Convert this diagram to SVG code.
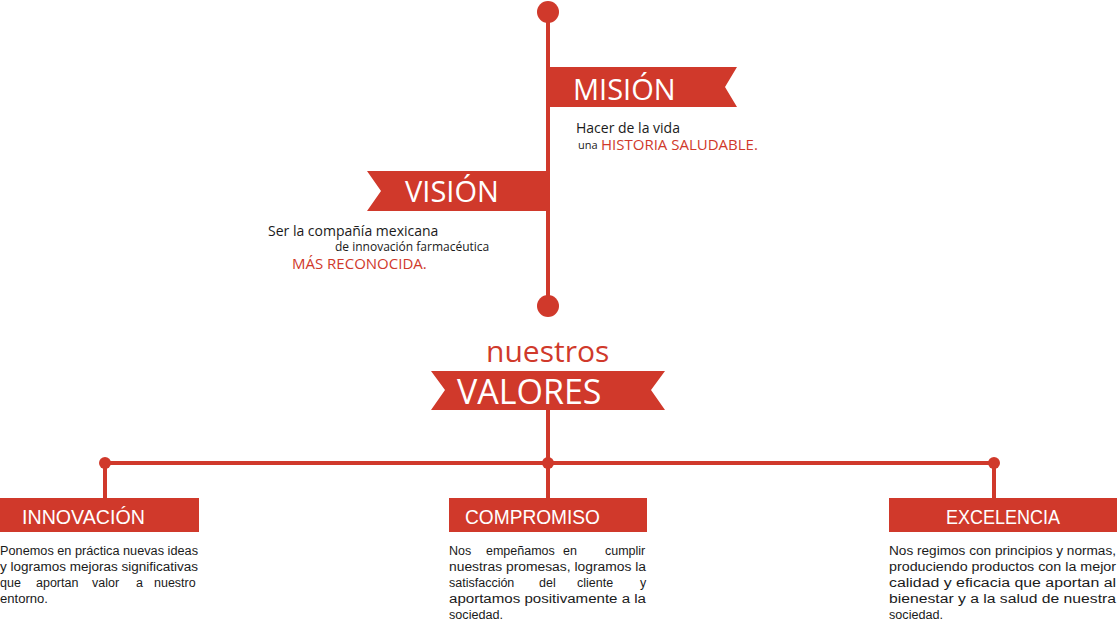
<svg xmlns="http://www.w3.org/2000/svg" width="1120" height="626" viewBox="0 0 1120 626">
<style>
.r{fill:#d0392b}
.ln{stroke:#d0392b;stroke-width:4;fill:none}
.w{fill:#fff;font-family:"Open Sans","Liberation Sans",sans-serif}
.t{fill:#1a1a1a;font-family:"Open Sans","Liberation Sans",sans-serif}
.rt{fill:#d0392b;font-family:"Open Sans","Liberation Sans",sans-serif}
.b{fill:#1a1a1a;font-family:"Liberation Sans",sans-serif;font-size:12.5px}
.h{fill:#fff;font-family:"Liberation Sans",sans-serif;font-size:20px}
</style>
<rect width="1120" height="626" fill="#fff"/>
<g id="connectors">
<line class="ln" x1="548" y1="12" x2="548" y2="306"/>
<line class="ln" x1="548" y1="410" x2="548" y2="498"/>
<line class="ln" x1="105" y1="463" x2="994" y2="463"/>
<line class="ln" x1="105" y1="463" x2="105" y2="498"/>
<line class="ln" x1="994" y1="463" x2="994" y2="498"/>
<circle class="r" cx="548" cy="12" r="11"/>
<circle class="r" cx="548" cy="306" r="11"/>
<circle class="r" cx="105" cy="463" r="6"/>
<circle class="r" cx="548" cy="463" r="6"/>
<circle class="r" cx="994" cy="463" r="6"/>
</g>
<g id="mision">
<polygon class="r" points="548,67 737,67 725,87 737,107 548,107"/>
<text class="w" x="573" y="100" font-size="29">MISIÓN</text>
<text class="t" x="576" y="133" font-size="14">Hacer de la vida</text>
<text class="t" x="578" y="149" font-size="11">una</text>
<text class="rt" x="601" y="150" font-size="15">HISTORIA SALUDABLE.</text>
</g>
<g id="vision">
<polygon class="r" points="367,171 548,171 548,211 367,211 381,191"/>
<text class="w" x="405" y="202" font-size="29">VISIÓN</text>
<text class="t" x="268" y="236" font-size="14">Ser la compañía mexicana</text>
<text class="t" x="335" y="251" font-size="12">de innovación farmacéutica</text>
<text class="rt" x="292" y="269" font-size="15">MÁS RECONOCIDA.</text>
</g>
<g id="valores">
<text class="rt" x="486" y="362" font-size="30">nuestros</text>
<polygon class="r" points="431,371 665,371 651,390 665,410 431,410 445,390"/>
<text class="w" x="457" y="404" font-size="34">VALORES</text>
</g>
<g id="innovacion">
<rect class="r" x="0" y="498" width="199" height="34"/>
<text class="h" x="22" y="524" textLength="123" lengthAdjust="spacingAndGlyphs">INNOVACIÓN</text>
<text class="b" x="0" y="555" textLength="198" lengthAdjust="spacingAndGlyphs">Ponemos en práctica nuevas ideas</text>
<text class="b" x="0" y="571" textLength="198" lengthAdjust="spacingAndGlyphs">y logramos mejoras significativas</text>
<text class="b" y="587"><tspan x="0">que</tspan><tspan x="36">aportan</tspan><tspan x="92">valor</tspan><tspan x="136">a</tspan><tspan x="154">nuestro</tspan></text>
<text class="b" x="0" y="603" textLength="48" lengthAdjust="spacingAndGlyphs">entorno.</text>
</g>
<g id="compromiso">
<rect class="r" x="449" y="498" width="198" height="34"/>
<text class="h" x="465" y="524" textLength="135" lengthAdjust="spacingAndGlyphs">COMPROMISO</text>
<text class="b" y="555"><tspan x="449">Nos</tspan><tspan x="486">empeñamos</tspan><tspan x="563">en</tspan><tspan x="605">cumplir</tspan></text>
<text class="b" x="449" y="571" textLength="197" lengthAdjust="spacingAndGlyphs">nuestras promesas, logramos la</text>
<text class="b" y="587"><tspan x="449">satisfacción</tspan><tspan x="539">del</tspan><tspan x="577">cliente</tspan><tspan x="640">y</tspan></text>
<text class="b" x="449" y="603" textLength="197" lengthAdjust="spacingAndGlyphs">aportamos positivamente a la</text>
<text class="b" x="449" y="619" textLength="54" lengthAdjust="spacingAndGlyphs">sociedad.</text>
</g>
<g id="excelencia">
<rect class="r" x="889" y="498" width="228" height="34"/>
<text class="h" x="946" y="524" textLength="114" lengthAdjust="spacingAndGlyphs">EXCELENCIA</text>
<text class="b" x="889" y="555" textLength="227" lengthAdjust="spacingAndGlyphs">Nos regimos con principios y normas,</text>
<text class="b" x="889" y="571" textLength="227" lengthAdjust="spacingAndGlyphs">produciendo productos con la mejor</text>
<text class="b" x="889" y="587" textLength="227" lengthAdjust="spacingAndGlyphs">calidad y eficacia que aportan al</text>
<text class="b" x="889" y="603" textLength="227" lengthAdjust="spacingAndGlyphs">bienestar y a la salud de nuestra</text>
<text class="b" x="889" y="619" textLength="54" lengthAdjust="spacingAndGlyphs">sociedad.</text>
</g>
</svg>
